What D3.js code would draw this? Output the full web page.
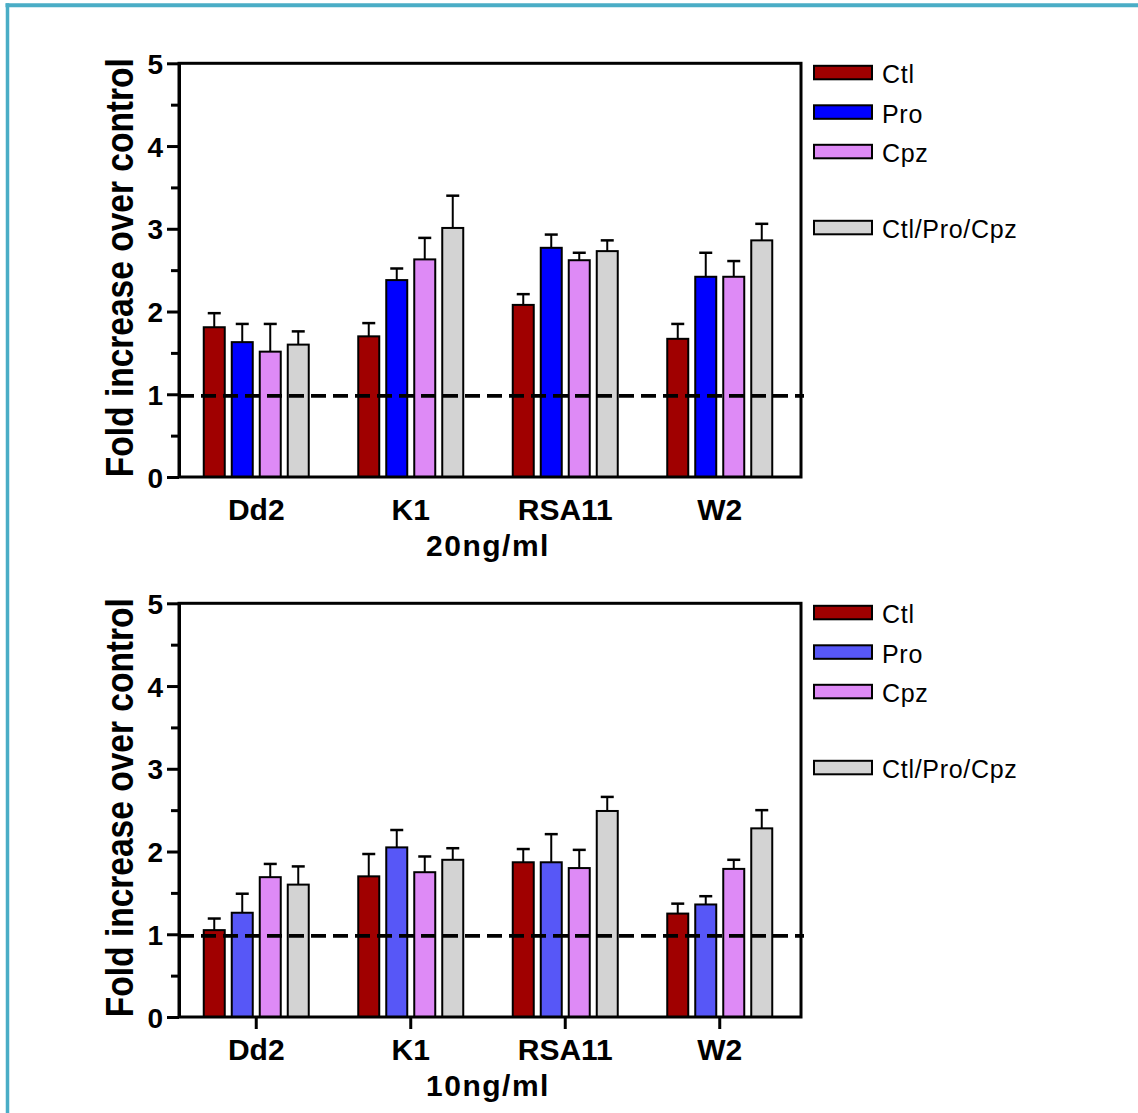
<!DOCTYPE html>
<html>
<head>
<meta charset="utf-8">
<script src="https://cdn.jsdelivr.net/npm/d3@7"></script>
<style>
  html, body { margin: 0; padding: 0; background: #fff; }
  svg { display: block; }
  text { font-family: "Liberation Sans", Arial, Helvetica, sans-serif; fill: #000; }
</style>
</head>
<body>
<svg id="chart" width="1138" height="1113"></svg>
<script>
// Parasite strains and treatment groups
const strains = ["Dd2", "K1", "RSA11", "W2"];
const treatments = ["Ctl", "Pro", "Cpz", "Ctl/Pro/Cpz"];
const yTicks = [0, 1, 2, 3, 4, 5];
const yMinorTicks = [0.5, 1.5, 2.5, 3.5, 4.5];
const baseline = 0.98;

// 20 ng/ml: mean fold increase and SEM per strain
const ctl20 = [1.81, 1.70, 2.08, 1.67];
const ctl20Sem = [0.17, 0.16, 0.13, 0.18];
const pro20 = [1.63, 2.38, 2.77, 2.42];
const pro20Sem = [0.22, 0.14, 0.16, 0.29];
const cpz20 = [1.515, 2.63, 2.62, 2.42];
const cpz20Sem = [0.335, 0.26, 0.09, 0.19];
const combo20 = [1.60, 3.01, 2.73, 2.86];
const combo20Sem = [0.16, 0.39, 0.13, 0.20];

// 10 ng/ml: mean fold increase and SEM per strain
const ctl10 = [1.05, 1.70, 1.87, 1.25];
const ctl10Sem = [0.14, 0.27, 0.16, 0.12];
const pro10 = [1.26, 2.05, 1.87, 1.36];
const pro10Sem = [0.23, 0.21, 0.34, 0.10];
const cpz10 = [1.69, 1.75, 1.80, 1.79];
const cpz10Sem = [0.16, 0.19, 0.22, 0.11];
const combo10 = [1.60, 1.90, 2.49, 2.28];
const combo10Sem = [0.22, 0.14, 0.17, 0.22];

const panels = [
  {
    title: "20ng/ml",
    offset: 0,
    colors: ["#a00000", "#0000ff", "#de8af6", "#d3d3d3"],
    means: [ctl20, pro20, cpz20, combo20],
    sems: [ctl20Sem, pro20Sem, cpz20Sem, combo20Sem],
    xTicks: false
  },
  {
    title: "10ng/ml",
    offset: 540,
    colors: ["#a00000", "#5757f7", "#de8af6", "#d3d3d3"],
    means: [ctl10, pro10, cpz10, combo10],
    sems: [ctl10Sem, pro10Sem, cpz10Sem, combo10Sem],
    xTicks: true
  }
];

const svg = d3.select("#chart");

// Outer frame (top and left edges only)
svg.append("line").attr("x1", 5.5).attr("x2", 1138).attr("y1", 5.3).attr("y2", 5.3)
  .attr("stroke", "#4aadc6").attr("stroke-width", 4);
svg.append("line").attr("x1", 7.5).attr("x2", 7.5).attr("y1", 3.3).attr("y2", 1113)
  .attr("stroke", "#4aadc6").attr("stroke-width", 3.5);

const plotLeft = 179, plotRight = 801, plotTop = 63.3, plotBottom = 477;

const x0 = d3.scaleBand().domain(strains).range([plotLeft, 797]);
const x1 = d3.scaleBand().domain(treatments).range([0, 105]).paddingInner(0.25);
const y = d3.scaleLinear().domain([0, 5]).range([plotBottom, plotTop]);

panels.forEach(p => {
  const g = svg.append("g").attr("transform", `translate(0,${p.offset})`);

  // Bars
  const rows = [];
  strains.forEach((s, si) => {
    treatments.forEach((t, ti) => {
      rows.push({ strain: s, treatment: t, ti, mean: p.means[ti][si], sem: p.sems[ti][si] });
    });
  });
  const barX = d => x0(d.strain) + x0.bandwidth() / 2 - 52.5 + x1(d.treatment);

  // Error bars (upper only)
  const eb = g.append("g");
  eb.selectAll("line.stem").data(rows).join("line").attr("class", "stem")
    .attr("x1", d => barX(d) + x1.bandwidth() / 2)
    .attr("x2", d => barX(d) + x1.bandwidth() / 2)
    .attr("y1", d => y(d.mean))
    .attr("y2", d => y(d.mean + d.sem))
    .attr("stroke", "#000").attr("stroke-width", 2);
  eb.selectAll("line.cap").data(rows).join("line").attr("class", "cap")
    .attr("x1", d => barX(d) + x1.bandwidth() / 2 - 6.5)
    .attr("x2", d => barX(d) + x1.bandwidth() / 2 + 6.5)
    .attr("y1", d => y(d.mean + d.sem))
    .attr("y2", d => y(d.mean + d.sem))
    .attr("stroke", "#000").attr("stroke-width", 2.5);

  g.append("g").selectAll("rect").data(rows).join("rect")
    .attr("x", barX)
    .attr("width", x1.bandwidth())
    .attr("y", d => y(d.mean))
    .attr("height", d => y(0) - y(d.mean))
    .attr("fill", d => p.colors[d.ti])
    .attr("stroke", "#000").attr("stroke-width", 2);

  // Reference line at control level
  g.append("line")
    .attr("x1", plotLeft).attr("x2", plotRight + 3)
    .attr("y1", y(baseline)).attr("y2", y(baseline))
    .attr("stroke", "#000").attr("stroke-width", 3.8)
    .attr("stroke-dasharray", "15,7");

  // Plot frame
  g.append("rect")
    .attr("x", plotLeft).attr("y", plotTop)
    .attr("width", plotRight - plotLeft).attr("height", plotBottom - plotTop)
    .attr("fill", "none").attr("stroke", "#000").attr("stroke-width", 3);

  // Y axis: major and minor ticks
  const yAxis = g.append("g").attr("transform", `translate(${plotLeft},0)`)
    .call(d3.axisLeft(y).tickValues(yTicks).tickSize(12).tickSizeOuter(0).tickPadding(5).tickFormat(d3.format("d")));
  yAxis.select(".domain").attr("stroke-width", 3);
  yAxis.selectAll(".tick line").attr("stroke-width", 3);
  yAxis.selectAll(".tick text")
    .attr("font-size", 28).attr("font-weight", "bold")
    .attr("x", -16).attr("dy", "0.36em");
  const yMinor = g.append("g").attr("transform", `translate(${plotLeft},0)`)
    .call(d3.axisLeft(y).tickValues(yMinorTicks).tickSize(8).tickSizeOuter(0).tickFormat(""));
  yMinor.select(".domain").remove();
  yMinor.selectAll(".tick line").attr("stroke-width", 3);

  // X axis: strain labels
  const xAxis = g.append("g").attr("transform", `translate(0,${plotBottom})`)
    .call(d3.axisBottom(x0).tickSize(p.xTicks ? 12 : 0).tickSizeOuter(0));
  xAxis.select(".domain").remove();
  xAxis.selectAll(".tick line").attr("stroke-width", 3);
  xAxis.selectAll(".tick text")
    .attr("font-size", 30).attr("font-weight", "bold")
    .attr("y", 43).attr("dy", 0);

  // Panel title (concentration)
  g.append("text")
    .attr("x", 488).attr("y", 556)
    .attr("text-anchor", "middle")
    .attr("font-size", 30).attr("font-weight", "bold")
    .attr("letter-spacing", 1.5)
    .text(p.title);

  // Y axis title
  g.append("text")
    .attr("transform", `translate(132.7,${(plotTop + plotBottom) / 2 - 2.5}) rotate(-90)`)
    .attr("text-anchor", "middle")
    .attr("font-size", 38).attr("font-weight", "bold")
    .attr("textLength", 419).attr("lengthAdjust", "spacingAndGlyphs")
    .text("Fold increase over control");

  // Legend
  const legendOffsets = [1.5, 41, 80.5, 156.5];
  const lg = g.append("g");
  treatments.forEach((t, i) => {
    const top = plotTop + legendOffsets[i];
    lg.append("rect")
      .attr("x", 814).attr("y", top + 1)
      .attr("width", 58).attr("height", 13.5)
      .attr("fill", p.colors[i]).attr("stroke", "#000").attr("stroke-width", 2);
    lg.append("text")
      .attr("x", 882).attr("y", top + 18.5)
      .attr("font-size", 25)
      .attr("letter-spacing", 0.7)
      .text(t);
  });
});
</script>
</body>
</html>
